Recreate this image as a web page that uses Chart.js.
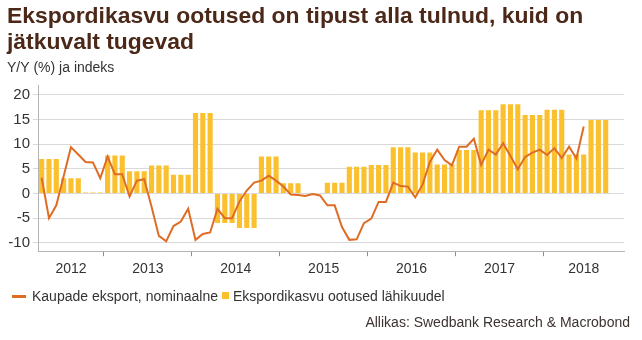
<!DOCTYPE html>
<html>
<head>
<meta charset="utf-8">
<script src="https://cdn.jsdelivr.net/npm/chart.js@4/dist/chart.umd.min.js"></script>
<style>
  html, body { margin: 0; padding: 0; background: #fff; }
  #wrap { position: relative; width: 642px; height: 340px; }
  .txt {
    position: absolute; white-space: nowrap;
    font: 14px 'Liberation Sans', Arial, sans-serif; line-height: 16px; color: #333;
  }
  .mark { position: absolute; }
  #source { right: 12px; top: 314px; color: #3d3330; }
</style>
</head>
<body>
<div id="wrap">
  <canvas id="chart" width="642" height="340"></canvas>
  <div id="legend"></div>
  <div id="source" class="txt">Allikas: Swedbank Research &amp; Macrobond</div>
</div>
<script>
// ---- texts ----
const titleLines = ['Ekspordikasvu ootused on tipust alla tulnud, kuid on', 'jätkuvalt tugevad'];
const unitLabel = 'Y/Y (%) ja indeks';
const seriesNames = ['Kaupade eksport, nominaalne', 'Ekspordikasvu ootused lähikuudel'];

// ---- axes ----
const yearLabels = ['2012', '2013', '2014', '2015', '2016', '2017', '2018'];
const yTicks = [-10, -5, 0, 5, 10, 15, 20];
const firstYear = 2012, firstMonth = 4, monthCount = 80;   // Apr 2012 .. Nov 2018

// ---- series (monthly, starting Apr 2012) ----
// Goods exports, nominal, y/y %
const exportsYoY = [
  3.2, -5.0, -2.4, 3.5, 9.4, 7.9, 6.4, 6.3, 3.1,
  7.5, 3.9, 3.9, -0.6, 2.6, 2.9, -2.7, -8.6, -9.7, -6.6, -5.7, -3.1,
  -9.4, -8.2, -7.9, -3.1, -5.0, -5.0, -1.6, 0.6, 2.2, 2.6, 3.6, 2.6,
  1.4, -0.2, -0.3, -0.5, -0.1, -0.4, -2.4, -2.4, -6.8, -9.4, -9.3, -6.0,
  -5.1, -1.7, -1.7, 2.2, 1.5, 1.4, -0.8, 1.8, 6.4, 8.9, 6.8, 5.7,
  9.5, 9.5, 11.1, 5.8, 8.9, 7.9, 10.2, 7.6, 4.9, 7.4, 8.3, 8.9,
  7.8, 9.2, 7.2, 9.5, 7.1, 13.6
];
// Export growth expectations for the coming months (survey, quarterly level)
const expectations = [
  7.0, 7.0, 7.0, 3.1, 3.1, 3.1, 0.2, 0.2, 0.2,
  7.7, 7.7, 7.7, 4.5, 4.5, 4.5, 5.7, 5.7, 5.7, 3.8, 3.8, 3.8,
  16.3, 16.3, 16.3, -6.0, -6.0, -6.0, -7.0, -7.0, -7.0, 7.5, 7.5, 7.5,
  2.1, 2.1, 2.1, 0.0, 0.0, 0.0, 2.2, 2.2, 2.2, 5.4, 5.4, 5.4,
  5.8, 5.8, 5.8, 9.4, 9.4, 9.4, 8.3, 8.3, 8.3, 5.9, 5.9, 5.9,
  8.8, 8.8, 8.8, 16.9, 16.9, 16.9, 18.1, 18.1, 18.1, 15.9, 15.9, 15.9,
  17.0, 17.0, 17.0, 7.9, 7.9, 7.9, 14.9, 14.9, 14.9
];

// ---- month categories ----
const months = [];
for (let i = 0; i < monthCount; i++) {
  const m = firstMonth - 1 + i;
  const y = firstYear + Math.floor(m / 12);
  months.push(y + '-' + String((m % 12) + 1).padStart(2, '0'));
}

// year label positions: middle of each year's visible span, in month units
const yearCenters = yearLabels.map(yr => {
  const first = months.findIndex(m => m.startsWith(yr));
  let last = first;
  while (last + 1 < months.length && months[last + 1].startsWith(yr)) last++;
  return (first + last + 1) / 2;
});

// ---- style ----
const FONT = "'Liberation Sans', Arial, sans-serif";
const BAR = '#fbc02d';
const LINE = '#df6c24';
const GRID = '#d9d9d9';
const AXIS = '#b3b3b3';
const YEAR_TICK = '#8c8c8c';
const TEXT = '#333333';
const TITLE = '#4b2818';

Chart.defaults.font.family = FONT;

// ---- legend (HTML) ----
const legend = document.getElementById('legend');
function addEl(cls, style, text) {
  const el = document.createElement('div');
  el.className = cls;
  Object.assign(el.style, style);
  if (text) el.textContent = text;
  legend.appendChild(el);
}
addEl('mark', { left: '12px', top: '295px', width: '14px', height: '3px', background: LINE });
addEl('txt', { left: '32px', top: '288px' }, seriesNames[0]);
addEl('mark', { left: '222px', top: '292px', width: '7px', height: '7px', background: BAR });
addEl('txt', { left: '233px', top: '288px' }, seriesNames[1]);

new Chart(document.getElementById('chart'), {
  type: 'bar',
  data: {
    labels: months,
    datasets: [
      {
        type: 'line',
        label: seriesNames[0],
        data: exportsYoY,
        borderColor: LINE,
        borderWidth: 2,
        pointRadius: 0,
        tension: 0,
        fill: false,
        order: 0
      },
      {
        type: 'bar',
        label: seriesNames[1],
        data: expectations,
        backgroundColor: BAR,
        borderWidth: 0,
        barPercentage: 0.7,
        categoryPercentage: 1,
        order: 1
      }
    ]
  },
  options: {
    responsive: false,
    animation: false,
    devicePixelRatio: 1,
    layout: { padding: { left: 7, right: 18, top: 0, bottom: 57 } },
    plugins: {
      title: {
        display: true,
        text: titleLines,
        align: 'start',
        color: TITLE,
        font: { size: 22.9, weight: 'bold', lineHeight: '26px' },
        padding: { top: 4, bottom: 0 }
      },
      subtitle: {
        display: true,
        text: unitLabel,
        align: 'start',
        color: TEXT,
        font: { size: 14, lineHeight: '16px' },
        padding: { top: 4, bottom: 9 }
      },
      legend: { display: false },
      tooltip: { enabled: false }
    },
    scales: {
      x: {
        type: 'category',
        offset: true,
        weight: 0,
        grid: {
          offset: true,
          drawOnChartArea: false,
          drawTicks: true,
          tickLength: 5,
          color: c => (months[c.index] || '').endsWith('-01') ? YEAR_TICK : 'rgba(0,0,0,0)',
          tickColor: c => (months[c.index] || '').endsWith('-01') ? YEAR_TICK : 'rgba(0,0,0,0)'
        },
        border: { color: AXIS },
        ticks: { display: false, autoSkip: false }
      },
      yr: {
        type: 'linear',
        position: 'bottom',
        weight: 1,
        offset: false,
        min: 0,
        max: monthCount,
        grid: { display: false, drawTicks: false },
        border: { display: false },
        afterBuildTicks: axis => { axis.ticks = yearCenters.map(v => ({ value: v })); },
        ticks: {
          autoSkip: false,
          maxRotation: 0,
          padding: 5,
          color: TEXT,
          font: { size: 14 },
          callback: (value, index) => yearLabels[index]
        }
      },
      y: {
        min: -11.7,
        max: 22,
        afterBuildTicks: axis => { axis.ticks = yTicks.map(v => ({ value: v })); },
        afterFit: axis => { axis.width = 31; },
        grid: { color: GRID, tickLength: 5 },
        border: { color: AXIS },
        ticks: { padding: 3, color: TEXT, font: { size: 15 } }
      }
    }
  }
});
</script>
</body>
</html>
